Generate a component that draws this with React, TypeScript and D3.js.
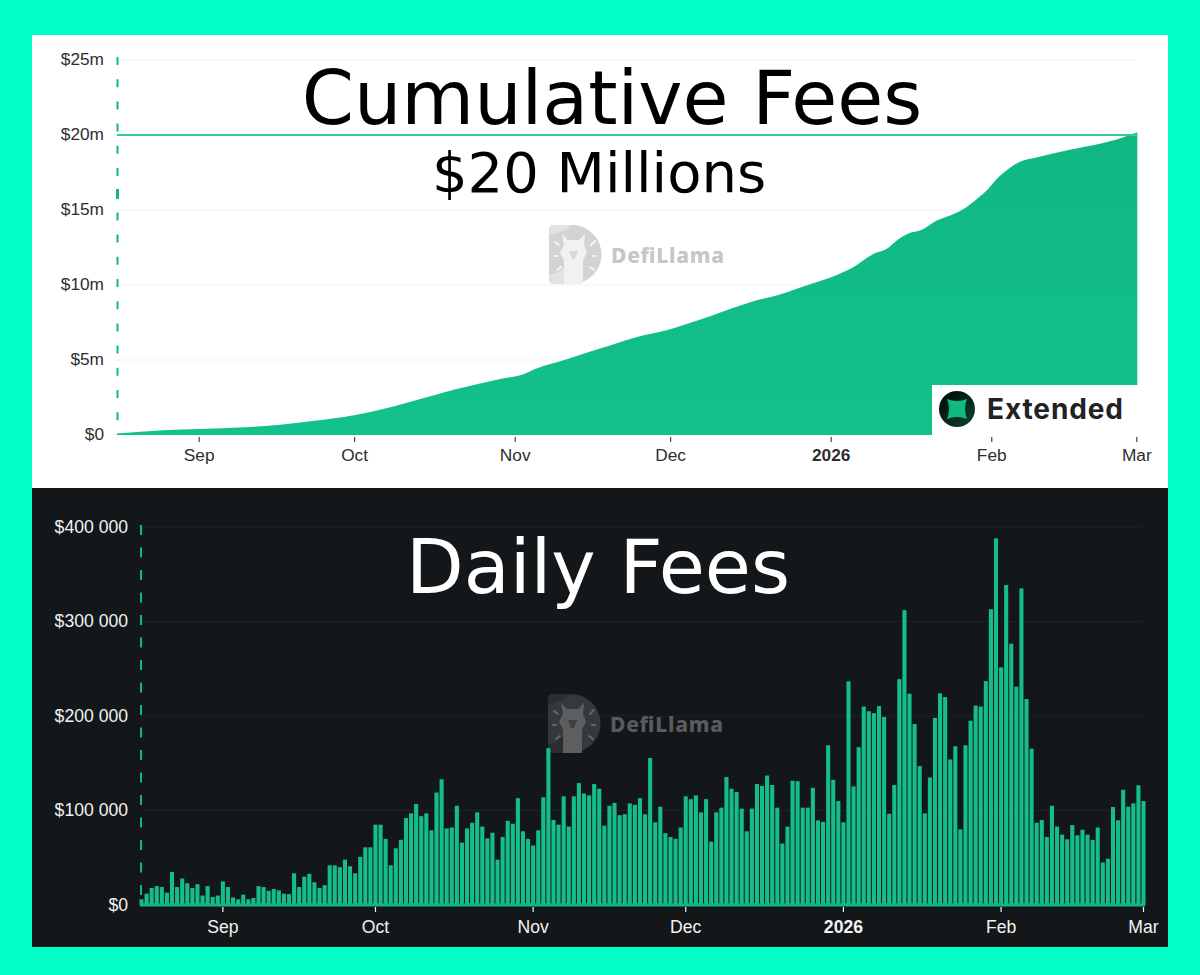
import { useEffect, useRef } from 'react';
import * as d3 from 'd3';

const startDate = Date.UTC(2025, 7, 16);
const dayMs = 86400000;

// daily fees in $k, one per day from Aug 16 to Mar 1
const dailyFees = [
  6, 12, 18, 20, 19, 13, 35, 19, 28, 23, 18, 22, 10, 20, 8.5, 10,
  25, 19, 8, 6, 11, 6, 7.5, 20, 19, 15, 17, 15.5, 12, 11.5, 33.5, 19, 30, 33, 24, 18, 21, 42, 42, 40, 48, 41, 33.5, 51, 61, 61,
  85, 85, 70, 42, 60, 69, 92, 97, 107, 94, 97, 79, 119, 133, 81, 82, 105, 66, 81, 87, 98, 83, 70.5, 76.5, 48, 72, 89, 86, 113, 78, 70,
  63, 79, 114, 166, 90, 85, 115, 83, 115, 129, 118, 116, 128, 123, 84, 105, 108, 95, 96, 107.5, 106, 113, 96, 155.5, 87.5, 104, 76, 72, 70, 82,
  115, 112, 116, 98, 112, 67, 98, 103, 135.5, 123, 119.5, 102, 78, 102, 128, 126, 137, 127, 103, 65, 83, 131.5, 131, 103, 103, 124, 89.5, 88, 169, 132.5, 110,
  87.5, 236.7, 125.5, 167, 210, 205, 203, 210.5, 199, 96.6, 127, 239, 312, 223.6, 191.5, 147, 97, 135, 198, 224, 220, 154, 168, 80, 169, 195, 211, 210, 237, 313, 388,
  251.5, 338.6, 276.5, 231, 335, 218, 165.4, 87, 90, 72, 105, 83, 74.4, 69.5, 84.6, 73.7, 79.7, 74.4, 68.8, 82, 45, 49, 103.7, 89.6, 122, 104, 107.6, 126.6,
  110,
];

// cumulative curve: days since Aug 16, value in $m
const cumulativeDays = [
  0, 9, 16, 24.6, 31, 37.3, 46, 50, 56.7, 65.4, 74, 78.6, 80.6, 87, 93.4, 99.9, 106.3, 112.8, 117.3, 123.7, 127, 133.4, 137.9, 141.8, 146.3, 148.5,
  150.8, 152.7, 155.3, 158.5, 161.1, 163.7, 166.2, 168.2, 170, 172.7, 174.7, 177.3, 183.7, 190, 192.7, 197,
];
const cumulativeValues = [
  0.1, 0.31, 0.4, 0.51, 0.67, 0.91, 1.33, 1.62, 2.22, 3.05, 3.73, 4.07, 4.38, 5.07, 5.78, 6.49, 7.0, 7.71, 8.27, 9.0, 9.27, 10.0, 10.51, 11.11, 12.11, 12.38,
  13.04, 13.42, 13.67, 14.33, 14.67, 15.11, 15.78, 16.4, 17.11, 17.89, 18.27, 18.49, 19.0, 19.44, 19.67, 20.18,
];

const monthTicks = [
  new Date(Date.UTC(2025, 8, 1)),
  new Date(Date.UTC(2025, 9, 1)),
  new Date(Date.UTC(2025, 10, 1)),
  new Date(Date.UTC(2025, 11, 1)),
  new Date(Date.UTC(2026, 0, 1)),
  new Date(Date.UTC(2026, 1, 1)),
  new Date(Date.UTC(2026, 2, 1)),
];
const monthLabels = ['Sep', 'Oct', 'Nov', 'Dec', '2026', 'Feb', 'Mar'];
const cumulativeTicks = [0, 5, 10, 15, 20, 25];
const dailyTicks = [0, 100, 200, 300, 400];

const axisFont = '"Liberation Sans", Arial, sans-serif';
const titleFont = '"DejaVu Sans", sans-serif';
const green = '#10b981';

type Sel = d3.Selection<SVGGElement, unknown, null, undefined>;

function drawAxes(
  g: Sel,
  x: d3.ScaleTime<number, number>,
  y: d3.ScaleLinear<number, number>,
  yTicks: number[],
  yFormat: (v: number) => string,
  opts: {
    color: string;
    tickColor: string;
    grid: string;
    labelX: number;
    labelDy: number;
    tickTop: number;
    monthDy: number;
    fontSize: number;
  },
) {
  const [left, right] = x.range();
  g.append('g')
    .selectAll('line')
    .data(yTicks.filter((t) => t > 0))
    .join('line')
    .attr('x1', left)
    .attr('x2', right)
    .attr('y1', (d) => y(d))
    .attr('y2', (d) => y(d))
    .attr('stroke', opts.grid)
    .attr('stroke-width', 1);

  const yAxis = g
    .append('g')
    .attr('transform', `translate(${opts.labelX}, ${opts.labelDy})`)
    .call(d3.axisLeft(y).tickValues(yTicks).tickSize(0).tickPadding(0).tickFormat((d) => yFormat(d as number)));
  yAxis.select('.domain').remove();
  yAxis.selectAll('text').style('font-family', axisFont).style('font-size', `${opts.fontSize}px`).style('fill', opts.color);

  const xAxis = g
    .append('g')
    .attr('transform', `translate(0, ${opts.tickTop})`)
    .call(
      d3
        .axisBottom(x)
        .tickValues(monthTicks)
        .tickSize(5)
        .tickPadding(opts.monthDy)
        .tickFormat((_, i) => monthLabels[i]),
    );
  xAxis.select('.domain').remove();
  xAxis.selectAll('line').attr('stroke', opts.tickColor).attr('stroke-width', 1.2);
  xAxis
    .selectAll('text')
    .style('font-family', axisFont)
    .style('font-size', `${opts.fontSize}px`)
    .style('fill', opts.color)
    .style('font-weight', (_, i) => (monthLabels[i] === '2026' ? '700' : '400'));
}

function drawWatermark(
  g: Sel,
  x: number,
  y: number,
  c: { d: string; arc: string; llama: string; ray: string; text: string; nose: string },
) {
  const w = g.append('g').attr('transform', `translate(${x}, ${y})`);
  w.append('path').attr('d', 'M5 0 H23 A29.5 29.5 0 0 1 23 59 H5 Q0 59 0 54 V5 Q0 0 5 0 Z').attr('fill', c.d);
  w.append('path').attr('d', 'M5 0 H23 Q14 8 0 10 V5 Q0 0 5 0 Z').attr('fill', c.arc);
  w.append('path').attr('d', 'M0 50 Q10 48 15 42 V59 H5 Q0 59 0 54 Z').attr('fill', c.arc);
  w.append('path')
    .attr('d', 'M13 9 L19 15 H30 L36 9 L35 20 L38 28 L34 35 V59 H15 V35 L11 28 L15 20 Z')
    .attr('fill', c.llama);
  w.append('path').attr('d', 'M20 26 H29 L26 34 H23 Z').attr('fill', c.nose);
  w.selectAll('line.ray')
    .data([
      [6, 17, 10, 20],
      [42, 20, 46, 16],
      [5, 31, 8, 31],
      [44, 31, 47, 31],
      [8, 45, 12, 42],
      [41, 42, 45, 45],
    ])
    .join('line')
    .attr('class', 'ray')
    .attr('x1', (d) => d[0])
    .attr('y1', (d) => d[1])
    .attr('x2', (d) => d[2])
    .attr('y2', (d) => d[3])
    .attr('stroke', c.ray)
    .attr('stroke-width', 2)
    .attr('stroke-linecap', 'round');
  w.append('text')
    .attr('x', 62)
    .attr('y', 38)
    .attr('textLength', 113)
    .style('font-family', '"Noto Sans", sans-serif')
    .style('font-weight', '800')
    .style('font-size', '21px')
    .style('fill', c.text)
    .text('DefiLlama');
}

function drawTitle(g: Sel, text: string, x: number, y: number, size: number, fill: string) {
  g.append('text')
    .attr('x', x)
    .attr('y', y)
    .attr('text-anchor', 'middle')
    .style('font-family', titleFont)
    .style('font-size', `${size}px`)
    .style('fill', fill)
    .text(text);
}

export default function App() {
  const svgRef = useRef<SVGSVGElement>(null);

  useEffect(() => {
    if (!svgRef.current) return;
    const svg = d3.select(svgRef.current);
    svg.selectAll('*').remove();

    const dateOf = (d: number) => new Date(startDate + d * dayMs);
    const endDate = dateOf(197);

    svg.append('rect').attr('width', 1200).attr('height', 975).attr('fill', '#00ffc8');
    svg.append('rect').attr('x', 32).attr('y', 35).attr('width', 1136).attr('height', 453).attr('fill', '#ffffff');
    svg.append('rect').attr('x', 32).attr('y', 488).attr('width', 1136).attr('height', 459).attr('fill', '#131719');

    const defs = svg.append('defs');
    const areaGrad = defs
      .append('linearGradient')
      .attr('id', 'areaGrad')
      .attr('x1', 0)
      .attr('y1', 0)
      .attr('x2', 0)
      .attr('y2', 1);
    areaGrad.append('stop').attr('offset', '0%').attr('stop-color', '#10b783');
    areaGrad.append('stop').attr('offset', '100%').attr('stop-color', '#12c18c');
    const logoGrad = defs
      .append('linearGradient')
      .attr('id', 'logoGrad')
      .attr('x1', 0)
      .attr('y1', 0)
      .attr('x2', 1)
      .attr('y2', 1);
    logoGrad.append('stop').attr('offset', '0%').attr('stop-color', '#020403');
    logoGrad.append('stop').attr('offset', '100%').attr('stop-color', '#0a4635');

    // top chart
    const top = svg.append('g') as unknown as Sel;
    const xTop = d3.scaleUtc().domain([dateOf(0), endDate]).range([115.8, 1136.3]);
    const xArea = d3.scaleUtc().domain([dateOf(0), endDate]).range([117, 1137.3]);
    const yTop = d3.scaleLinear().domain([0, 25]).range([435, 60]);
    drawAxes(top, xTop, yTop, cumulativeTicks, (v) => `$${v}${v === 0 ? '' : 'm'}`, {
      color: '#2e2e2e',
      tickColor: '#444',
      grid: '#f3f3f3',
      labelX: 104,
      labelDy: -1.5,
      tickTop: 437,
      monthDy: 7,
      fontSize: 17.3,
    });
    drawWatermark(top, 549, 225, {
      d: '#d3d3d3',
      arc: '#e2e2e2',
      llama: '#f1f1f1',
      ray: '#f4f4f4',
      text: '#c6c6c6',
      nose: '#d8d8d8',
    });

    const area = d3
      .area<number>()
      .x((_, i) => xArea(dateOf(cumulativeDays[i])))
      .y0(yTop(0))
      .y1((d) => yTop(d))
      .curve(d3.curveMonotoneX);
    top.append('path').attr('d', area(cumulativeValues)).attr('fill', 'url(#areaGrad)');

    top
      .append('line')
      .attr('x1', xArea(dateOf(0)))
      .attr('x2', xArea(endDate))
      .attr('y1', yTop(20))
      .attr('y2', yTop(20))
      .attr('stroke', '#34c998')
      .attr('stroke-width', 2);
    top
      .append('line')
      .attr('x1', xArea(dateOf(0)) + 0.5)
      .attr('x2', xArea(dateOf(0)) + 0.5)
      .attr('y1', 57)
      .attr('y2', yTop(0))
      .attr('stroke', green)
      .attr('stroke-width', 2)
      .attr('stroke-dasharray', '8 14.2');
    // one dash is heavier in the reference
    top
      .append('line')
      .attr('x1', xArea(dateOf(0)) + 0.5)
      .attr('x2', xArea(dateOf(0)) + 0.5)
      .attr('y1', 189)
      .attr('y2', 199)
      .attr('stroke', green)
      .attr('stroke-width', 3);

    drawTitle(top, 'Cumulative Fees', 612, 124, 74.8, '#000000');
    drawTitle(top, '$20 Millions', 599, 192, 56, '#000000');

    // Extended badge
    top.append('rect').attr('x', 932).attr('y', 385).attr('width', 206).attr('height', 50).attr('fill', '#ffffff');
    top.append('circle').attr('cx', 957).attr('cy', 409).attr('r', 18).attr('fill', 'url(#logoGrad)');
    top
      .append('path')
      .attr('d', 'M947 399 Q957 403 967 399 Q963 409 967 419 Q957 415 947 419 Q951 409 947 399 Z')
      .attr('fill', green);
    top
      .append('text')
      .attr('x', 987)
      .attr('y', 419)
      .attr('textLength', 136)
      .style('font-family', 'Inter, sans-serif')
      .style('font-weight', '700')
      .style('font-size', '28px')
      .style('fill', '#222222')
      .text('Extended');

    // bottom chart
    const bottom = svg.append('g') as unknown as Sel;
    const xBottom = d3.scaleUtc().domain([dateOf(0), endDate]).range([141, 1143]);
    const yBottom = d3.scaleLinear().domain([0, 400]).range([905, 527]);
    drawAxes(bottom, xBottom, yBottom, dailyTicks, (v) => (v === 0 ? '$0' : `$${v} 000`), {
      color: '#f2f2f2',
      tickColor: '#f2f2f2',
      grid: '#1e2224',
      labelX: 128,
      labelDy: -0.5,
      tickTop: 907,
      monthDy: 9,
      fontSize: 17.6,
    });
    drawWatermark(bottom, 548, 694, {
      d: '#36393b',
      arc: '#2b2e30',
      llama: '#5c5e60',
      ray: '#65676a',
      text: '#595b5d',
      nose: '#3c3e40',
    });

    const barWidth = 4.1;
    bottom
      .append('g')
      .selectAll('rect')
      .data(dailyFees)
      .join('rect')
      .attr('x', (_, i) => xBottom(dateOf(i)) + 0.5 - barWidth / 2)
      .attr('y', (d) => yBottom(d))
      .attr('width', barWidth)
      .attr('height', (d) => yBottom(0) - yBottom(d))
      .attr('fill', '#14bd8a');
    bottom
      .append('line')
      .attr('x1', xBottom(dateOf(0)) - 1)
      .attr('x2', xBottom(endDate) + 2)
      .attr('y1', yBottom(0))
      .attr('y2', yBottom(0))
      .attr('stroke', green)
      .attr('stroke-width', 3);
    bottom
      .append('line')
      .attr('x1', 141)
      .attr('x2', 141)
      .attr('y1', 525)
      .attr('y2', yBottom(0))
      .attr('stroke', green)
      .attr('stroke-width', 2)
      .attr('stroke-dasharray', '10 12.5');

    drawTitle(bottom, 'Daily Fees', 598, 593, 75, '#ffffff');
  }, []);

  return (
    <svg
      ref={svgRef}
      width={1200}
      height={975}
      viewBox="0 0 1200 975"
      style={{ position: 'fixed', left: 0, top: 0, display: 'block' }}
    />
  );
}
